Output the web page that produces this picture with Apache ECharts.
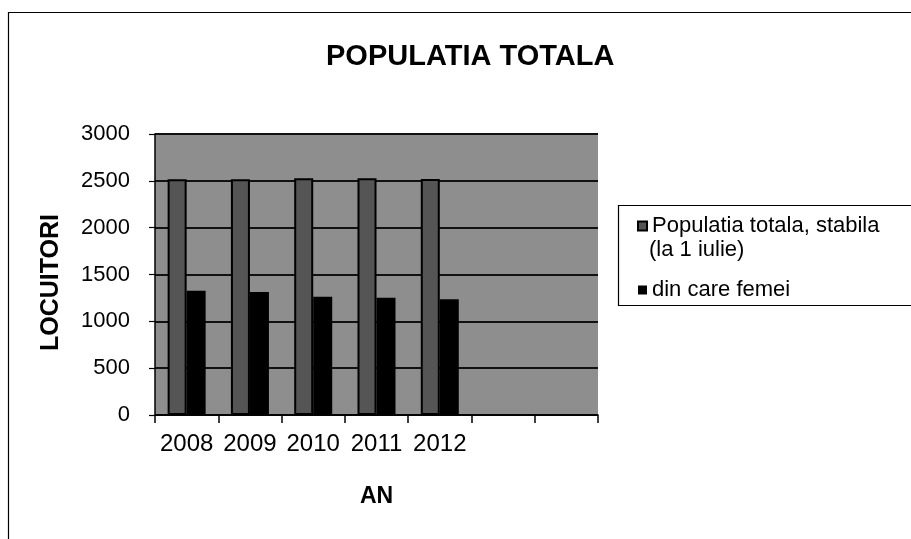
<!DOCTYPE html>
<html>
<head>
<meta charset="utf-8">
<script src="https://cdn.jsdelivr.net/npm/echarts@6/dist/echarts.min.js"></script>
<style>
html,body{margin:0;padding:0;background:#fff;}
#chart{width:911px;height:539px;}
</style>
</head>
<body>
<div id="chart"></div>
<script>
var categories = ['2008', '2009', '2010', '2011', '2012', '', ''];
var totalPop = [2516, 2516, 2527, 2527, 2520];
var women = [1327, 1313, 1263, 1253, 1235];
var yTicks = [0, 500, 1000, 1500, 2000, 2500, 3000];
var seriesNames = ['Populatia totala, stabila\n(la 1 iulie)', 'din care femei'];

var FONT = '"Liberation Sans", Arial, sans-serif';
var chart = echarts.init(document.getElementById('chart'), null, {renderer: 'canvas'});

var option = {
  backgroundColor: '#ffffff',
  animation: false,
  title: {
    text: 'POPULATIA TOTALA',
    left: 321,
    top: 37,
    textStyle: {fontFamily: FONT, fontSize: 29, fontWeight: 'bold', color: '#000'}
  },
  graphic: [
    {type: 'rect', z: -10, silent: true,
     shape: {x: 8.5, y: 12.5, width: 1000, height: 1000},
     style: {fill: '#fff', stroke: '#000', lineWidth: 1.2}},
    {type: 'rect', z: 1, silent: true,
     shape: {x: 618.5, y: 205.5, width: 400, height: 100},
     style: {fill: '#fff', stroke: '#000', lineWidth: 1.2}},
    {type: 'text', z: 6, silent: true,
     style: {text: seriesNames[0].split('\n')[1], x: 649, y: 250,
             fontFamily: FONT, fontSize: 22, fill: '#000', verticalAlign: 'middle'}}
  ],
  legend: {
    orient: 'vertical',
    left: 632,
    top: 208,
    itemWidth: 9,
    itemHeight: 9,
    itemGap: 38,
    icon: 'rect',
    z: 5,
    formatter: function (name) { return name.split('\n')[0]; },
    textStyle: {fontFamily: FONT, fontSize: 22, color: '#000', lineHeight: 26},
    data: seriesNames
  },
  grid: {left: 155, right: 313, top: 134, bottom: 124,
         show: true, backgroundColor: '#8e8e8e', borderWidth: 0},
  xAxis: {
    type: 'category',
    data: categories,
    boundaryGap: true,
    name: 'AN',
    nameLocation: 'middle',
    nameGap: 70,
    nameTextStyle: {fontFamily: FONT, fontSize: 23, fontWeight: 'bold', color: '#000'},
    axisLine: {show: true, lineStyle: {color: '#000', width: 1.5}},
    axisTick: {show: true, alignWithLabel: false, length: 8, lineStyle: {color: '#000', width: 1.5}},
    axisLabel: {fontFamily: FONT, fontSize: 24, color: '#000', margin: 17, interval: 0},
    splitLine: {show: false}
  },
  yAxis: {
    type: 'value',
    min: yTicks[0],
    max: yTicks[yTicks.length - 1],
    interval: 500,
    name: 'LOCUITORI',
    nameLocation: 'middle',
    nameGap: 91,
    nameTextStyle: {fontFamily: FONT, fontSize: 25, fontWeight: 'bold', color: '#000', padding: [0, 16, 0, 0]},
    axisLine: {show: true, lineStyle: {color: '#000', width: 1.5}},
    axisTick: {show: true, length: 6, lineStyle: {color: '#000', width: 1.2}},
    axisLabel: {fontFamily: FONT, fontSize: 22, color: '#000', margin: 25,
                formatter: function (v) { return String(v); }},
    splitLine: {show: true, lineStyle: {color: '#111', width: 2}}
  },
  series: [
    {
      name: seriesNames[0],
      type: 'bar',
      data: totalPop,
      barWidth: 19,
      barGap: '0%',
      itemStyle: {color: '#555555', borderColor: '#000', borderWidth: 2}
    },
    {
      name: seriesNames[1],
      type: 'bar',
      data: women,
      barWidth: 19,
      itemStyle: {color: '#000000'}
    }
  ]
};
chart.setOption(option);
</script>
</body>
</html>
